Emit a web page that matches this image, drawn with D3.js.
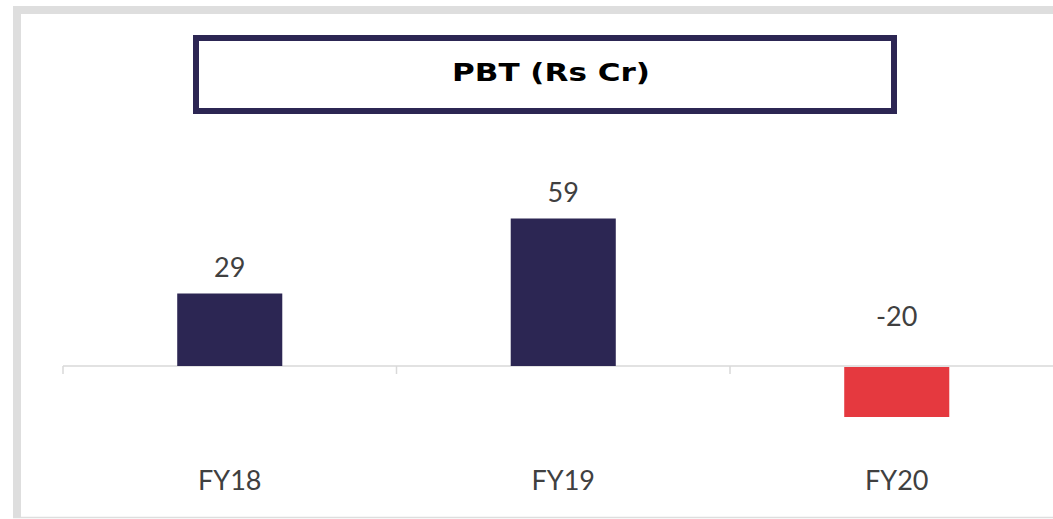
<!DOCTYPE html>
<meta charset="utf-8">
<style>
body { margin: 0; background: #fff; }
svg text { font-family: "Lato", "Open Sans", sans-serif; }
</style>
<svg id="svg" width="1053" height="519"></svg>
<script src="https://cdn.jsdelivr.net/npm/d3@7"></script>
<script>
// chart data
var categories = ["FY18", "FY19", "FY20"];
var values = [29, 59, -20];
var chartTitle = "PBT (Rs Cr)";

var svg = d3.select("#svg"),
    width = +svg.attr("width"),
    height = +svg.attr("height");

var navy = "#2c2653",
    red = "#e5393f",
    frameGrey = "#dedede",
    textGrey = "#404040";

// grey frame round the slide
svg.append("rect").attr("x", 13).attr("y", 6).attr("width", width - 13).attr("height", 8).attr("fill", frameGrey);
svg.append("rect").attr("x", 13).attr("y", 6).attr("width", 8).attr("height", 512).attr("fill", frameGrey);
svg.append("line").attr("x1", 13).attr("x2", width).attr("y1", 517.5).attr("y2", 517.5)
    .attr("stroke", frameGrey).attr("stroke-width", 1.5);

// title box
svg.append("rect")
    .attr("x", 196).attr("y", 38)
    .attr("width", 698).attr("height", 73)
    .attr("fill", "none")
    .attr("stroke", navy)
    .attr("stroke-width", 6);

svg.append("text")
    .attr("x", 551).attr("y", 81)
    .attr("text-anchor", "middle")
    .style("font-family", "'DejaVu Sans', sans-serif")
    .attr("font-size", "25px")
    .attr("font-weight", "bold")
    .attr("fill", "#000")
    .attr("textLength", 198)
    .attr("lengthAdjust", "spacingAndGlyphs")
    .text(chartTitle);

// scales
var x = d3.scaleBand()
    .domain(categories)
    .range([63, 1063.5])
    .padding(0);

var y = d3.scaleLinear()
    .domain([-30, 70])
    .range([441, 191]);

var barW = x.bandwidth() * 0.315;

// category axis: line at zero with ticks at band edges
var axis = svg.append("g").attr("class", "axis");
axis.append("line")
    .attr("x1", x.range()[0]).attr("x2", width)
    .attr("y1", y(0)).attr("y2", y(0))
    .attr("stroke", "#d9d9d9").attr("stroke-width", 1.5);

axis.selectAll("line.tick")
    .data(categories)
    .enter().append("line")
    .attr("class", "tick")
    .attr("x1", function(d) { return x(d); })
    .attr("x2", function(d) { return x(d); })
    .attr("y1", y(0))
    .attr("y2", y(0) + 8)
    .attr("stroke", "#d9d9d9").attr("stroke-width", 1.5);

axis.selectAll("text")
    .data(categories)
    .enter().append("text")
    .attr("x", function(d) { return x(d) + x.bandwidth() / 2; })
    .attr("y", 490)
    .attr("text-anchor", "middle")
    .attr("font-size", "27px")
    .attr("fill", textGrey)
    .text(function(d) { return d; });

// bars
svg.append("g")
    .selectAll("rect")
    .data(values)
    .enter().append("rect")
    .attr("x", function(d, i) { return x(categories[i]) + (x.bandwidth() - barW) / 2; })
    .attr("y", function(d) { return d >= 0 ? y(d) : y(0) + 1; })
    .attr("width", barW)
    .attr("height", function(d) { return Math.abs(y(d) - y(0)); })
    .attr("fill", function(d) { return d >= 0 ? navy : red; });

// value labels
svg.append("g")
    .selectAll("text")
    .data(values)
    .enter().append("text")
    .attr("x", function(d, i) { return x(categories[i]) + x.bandwidth() / 2; })
    .attr("y", function(d) { return d >= 0 ? y(d) - 17 : y(0) - 40; })
    .attr("text-anchor", "middle")
    .attr("font-size", "27px")
    .attr("fill", textGrey)
    .text(function(d) { return d; });
</script>
